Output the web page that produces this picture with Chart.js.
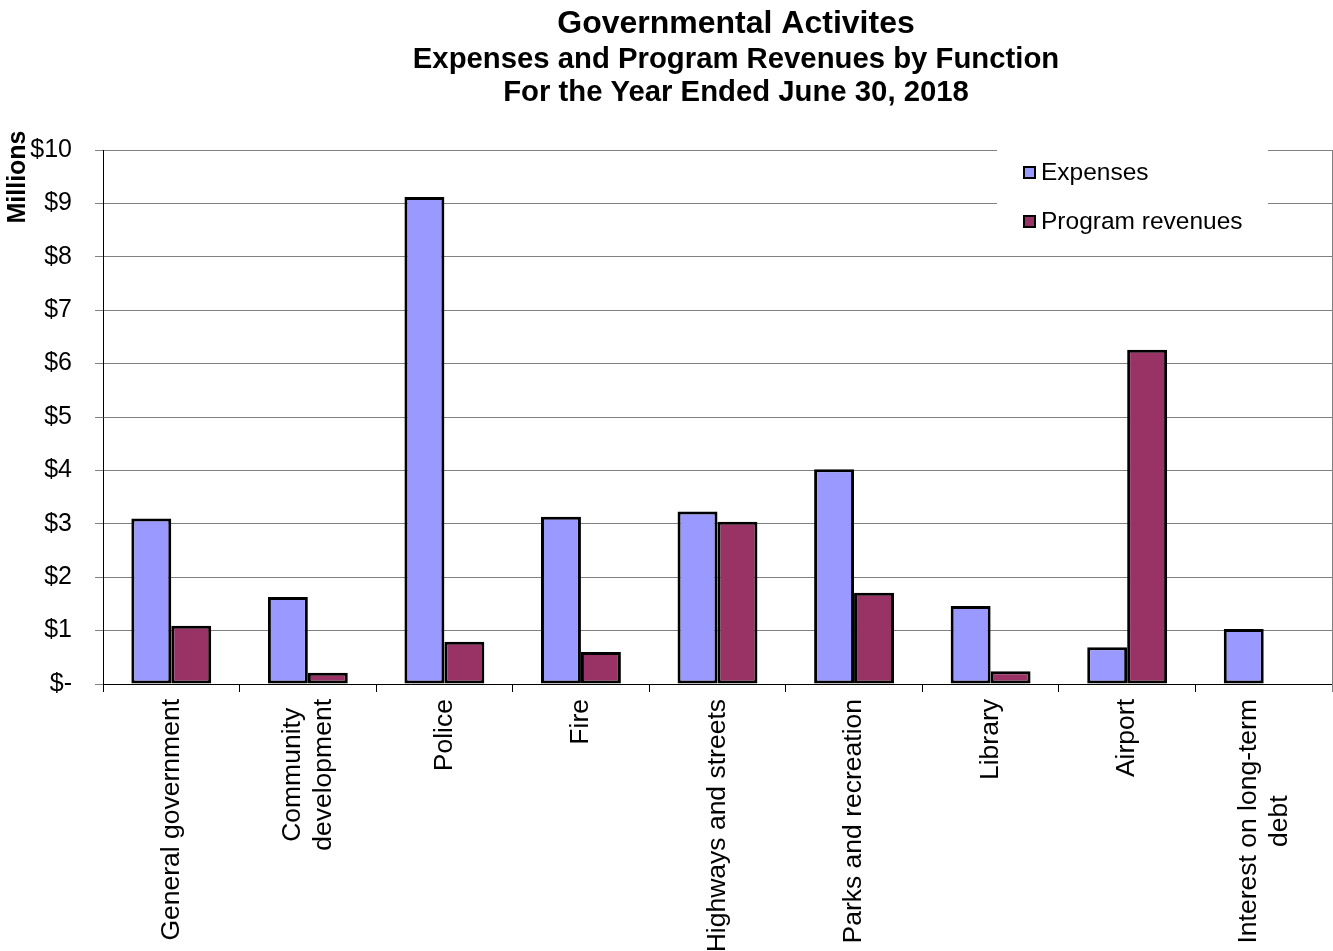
<!DOCTYPE html>
<html>
<head>
<meta charset="utf-8">
<script src="https://cdn.jsdelivr.net/npm/chart.js@4"></script>
<style>
  body { margin: 0; background: #fff; }
</style>
</head>
<body>
<canvas id="myChart" width="1333" height="951"></canvas>
<script>
var categories = [
    ['General government'],
    ['Community', 'development'],
    ['Police'],
    ['Fire'],
    ['Highways and streets'],
    ['Parks and recreation'],
    ['Library'],
    ['Airport'],
    ['Interest on long-term', 'debt']
];
var expenses = [3.10, 1.63, 9.12, 3.13, 3.23, 4.02, 1.46, 0.69, 1.03];
var revenues = [1.09, 0.21, 0.79, 0.60, 3.04, 1.71, 0.24, 6.26, 0];
var titleLines = ['Governmental Activites', 'Expenses and Program Revenues by Function', 'For the Year Ended June 30, 2018'];
var yTitle = 'Millions';

var FONT = '"Liberation Sans", Arial, sans-serif';
Chart.defaults.font.family = FONT;
Chart.defaults.color = '#000';

// title, axis title, legend and category labels drawn by hand
var decor = {
    id: 'decor',
    afterDraw: function(chart) {
        var ctx = chart.ctx;
        var area = chart.chartArea;
        var xs = chart.scales.x;

        ctx.save();
        // right border of plot
        ctx.strokeStyle = '#808080';
        ctx.lineWidth = 1;
        ctx.beginPath();
        ctx.moveTo(area.right + 0.5, area.top);
        ctx.lineTo(area.right + 0.5, area.bottom + 8);
        ctx.stroke();

        // title
        ctx.fillStyle = '#000';
        ctx.textAlign = 'center';
        ctx.textBaseline = 'middle';
        ctx.font = 'bold 32px ' + FONT;
        ctx.fillText(titleLines[0], 736, 24);
        ctx.font = 'bold 29.3px ' + FONT;
        ctx.fillText(titleLines[1], 736, 60);
        ctx.fillText(titleLines[2], 736, 93);

        // y axis title
        ctx.save();
        ctx.translate(18, 177);
        ctx.rotate(-Math.PI / 2);
        ctx.font = 'bold 25px ' + FONT;
        ctx.fillText(yTitle, 0, 0);
        ctx.restore();

        // legend
        ctx.fillStyle = '#fff';
        ctx.fillRect(997, 141, 271, 99);
        var ds = chart.data.datasets;
        ctx.font = '24.5px ' + FONT;
        ctx.textAlign = 'left';
        for (var i = 0; i < ds.length; i++) {
            var ly = 173 + i * 49;
            ctx.fillStyle = ds[i].backgroundColor;
            ctx.fillRect(1024, ly - 6, 11, 11);
            ctx.strokeStyle = '#000';
            ctx.lineWidth = 2;
            ctx.strokeRect(1024, ly - 6, 11, 11);
            ctx.fillStyle = '#000';
            ctx.fillText(ds[i].label, 1041, ly);
        }

        // category labels, rotated, lines centred in their block
        ctx.font = '26.5px ' + FONT;
        var lh = 31;
        for (var k = 0; k < categories.length; k++) {
            var lines = categories[k];
            var cx = xs.getPixelForValue(k);
            var maxW = 0;
            lines.forEach(function(t) { maxW = Math.max(maxW, ctx.measureText(t).width); });
            ctx.save();
            ctx.translate(cx, area.bottom + 15);
            ctx.rotate(-Math.PI / 2);
            ctx.textAlign = 'center';
            for (var j = 0; j < lines.length; j++) {
                ctx.fillText(lines[j], -maxW / 2, (j - (lines.length - 1) / 2) * lh);
            }
            ctx.restore();
        }
        ctx.restore();
    }
};

var ctx = document.getElementById('myChart').getContext('2d');
var chart = new Chart(ctx, {
    type: 'bar',
    data: {
        labels: categories,
        datasets: [{
            label: 'Expenses',
            data: expenses,
            backgroundColor: '#9999FF',
            borderColor: '#000',
            borderWidth: 3,
            borderSkipped: false
        }, {
            label: 'Program revenues',
            data: revenues,
            backgroundColor: '#993366',
            borderColor: '#000',
            borderWidth: 3,
            borderSkipped: false
        }]
    },
    options: {
        responsive: false,
        animation: false,
        layout: { padding: { top: 150, right: 1, left: 0, bottom: 0 } },
        datasets: { bar: { categoryPercentage: 0.585, barPercentage: 1 } },
        plugins: {
            legend: { display: false },
            title: { display: false },
            tooltip: { enabled: false }
        },
        scales: {
            x: {
                grid: { offset: true, drawOnChartArea: false, tickLength: 8, color: '#000' },
                border: { color: '#000', width: 1 },
                ticks: { display: false },
                afterFit: function(s) { s.height = 267; }
            },
            y: {
                min: 0,
                max: 10,
                grid: { color: '#808080', tickLength: 8 },
                border: { color: '#000', width: 1 },
                ticks: {
                    stepSize: 1,
                    padding: 23,
                    font: { size: 25 },
                    callback: function(v) { return v === 0 ? '$-' : '$' + v; }
                },
                afterFit: function(s) { s.width = 103; }
            }
        }
    },
    plugins: [decor]
});
</script>
</body>
</html>
